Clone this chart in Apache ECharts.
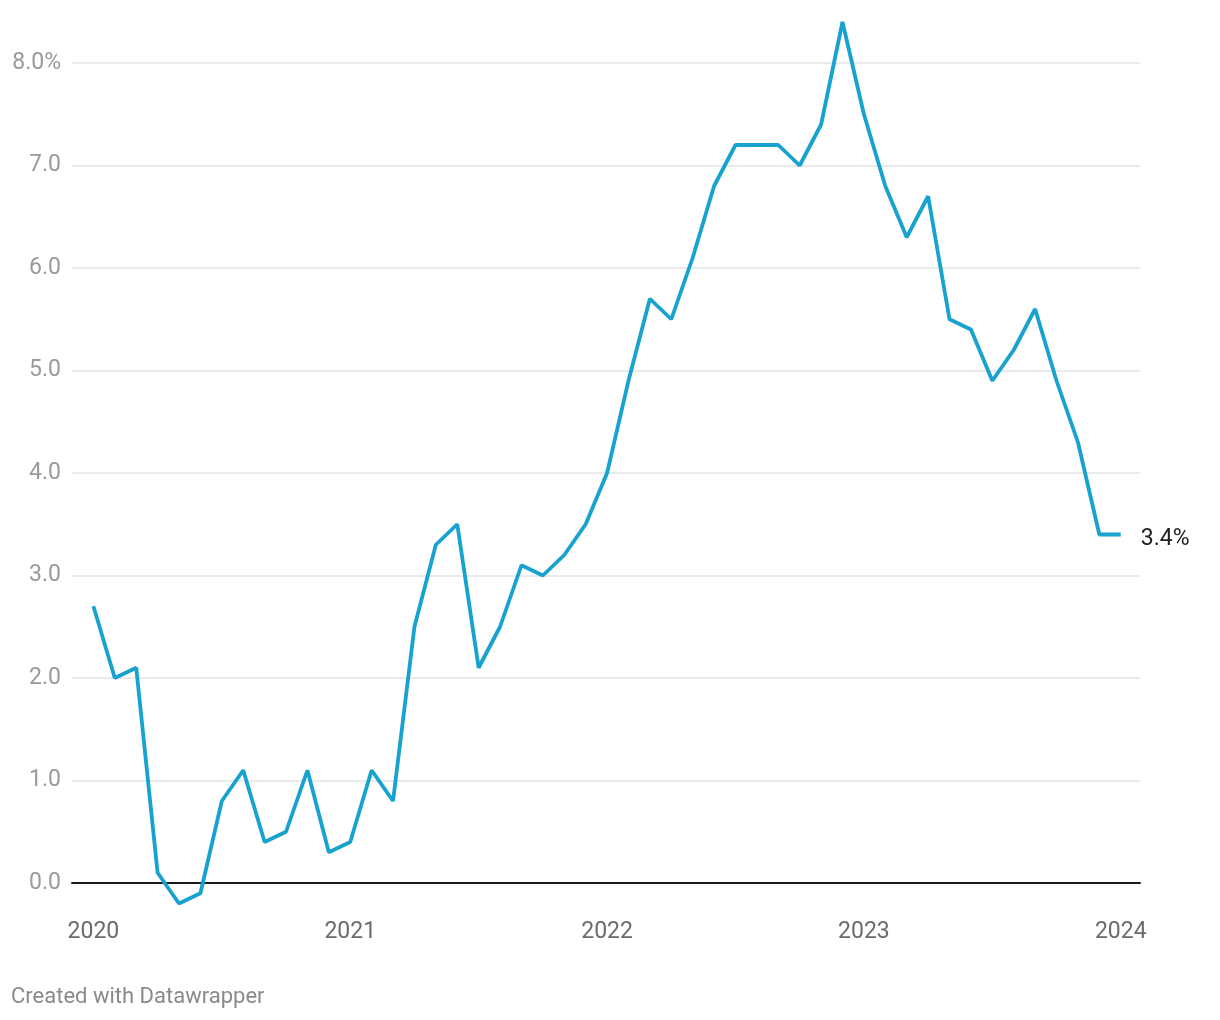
<!DOCTYPE html>
<html>
<head>
<meta charset="utf-8">
<script src="https://cdn.jsdelivr.net/npm/echarts@6/dist/echarts.min.js"></script>
<style>
	html, body { margin: 0; padding: 0; background: #fff; }
	#chart { width: 1220px; height: 1020px; }
</style>
</head>
<body>
<div id="chart"></div>
<script>
// monthly, Jan 2020 - Jan 2024
var months = [
	'2020-01','2020-02','2020-03','2020-04','2020-05','2020-06','2020-07','2020-08','2020-09','2020-10','2020-11','2020-12',
	'2021-01','2021-02','2021-03','2021-04','2021-05','2021-06','2021-07','2021-08','2021-09','2021-10','2021-11','2021-12',
	'2022-01','2022-02','2022-03','2022-04','2022-05','2022-06','2022-07','2022-08','2022-09','2022-10','2022-11','2022-12',
	'2023-01','2023-02','2023-03','2023-04','2023-05','2023-06','2023-07','2023-08','2023-09','2023-10','2023-11','2023-12',
	'2024-01'
];
var rates = [
	2.7, 2.0, 2.1, 0.1, -0.2, -0.1, 0.8, 1.1, 0.4, 0.5, 1.1, 0.3,
	0.4, 1.1, 0.8, 2.5, 3.3, 3.5, 2.1, 2.5, 3.1, 3.0, 3.2, 3.5,
	4.0, 4.9, 5.7, 5.5, 6.1, 6.8, 7.2, 7.2, 7.2, 7.0, 7.4, 8.4,
	7.5, 6.8, 6.3, 6.7, 5.5, 5.4, 4.9, 5.2, 5.6, 4.9, 4.3, 3.4,
	3.4
];
var yearTicks = ['2020', '2021', '2022', '2023', '2024'];

var font = 'Roboto';
var seriesData = months.map(function (m, i) { return [i, rates[i]]; });
var yearIdx = yearTicks.map(function (y) { return months.indexOf(y + '-01'); });

var myChart = echarts.init(document.getElementById('chart'));
var option = {
	animation: false,
	backgroundColor: '#fff',
	grid: {
		top: 63,
		bottom: 137,
		left: 72,
		right: 80
	},
	xAxis: {
		type: 'value',
		min: -1,
		max: 48.9,
		axisLine: {
			onZero: true,
			lineStyle: {
				color: '#1a1a1a',
				width: 2
			}
		},
		axisTick: { show: false },
		splitLine: { show: false },
		axisLabel: {
			customValues: yearIdx,
			formatter: function (v) {
				return months[v].slice(0, 4);
			},
			margin: 38,
			color: '#6b6b6b',
			fontFamily: font,
			fontSize: 23
		}
	},
	yAxis: {
		type: 'value',
		min: 0,
		max: 8,
		interval: 1,
		axisLine: { show: false },
		axisTick: { show: false },
		splitLine: {
			lineStyle: {
				color: '#e3e3e3',
				width: 1.5
			}
		},
		axisLabel: {
			margin: 11,
			padding: [4, 0, 0, 0],
			color: '#9a9a9a',
			fontFamily: font,
			fontSize: 23,
			formatter: function (v) {
				return v === 8 ? v.toFixed(1) + '%' : v.toFixed(1);
			}
		}
	},
	series: [{
		type: 'line',
		data: seriesData,
		clip: false,
		showSymbol: false,
		lineStyle: {
			color: '#17a2cf',
			width: 3.8
		},
		endLabel: {
			show: true,
			distance: 18,
			offset: [2, 5],
			color: '#222',
			fontFamily: font,
			fontSize: 23,
			formatter: function (p) {
				return p.value[1].toFixed(1) + '%';
			}
		}
	}],
	graphic: [{
		type: 'text',
		left: 11,
		top: 986,
		style: {
			text: 'Created with Datawrapper',
			fill: '#8a8a8a',
			font: '22px Roboto'
		}
	}]
};
myChart.setOption(option);
</script>
</body>
</html>
